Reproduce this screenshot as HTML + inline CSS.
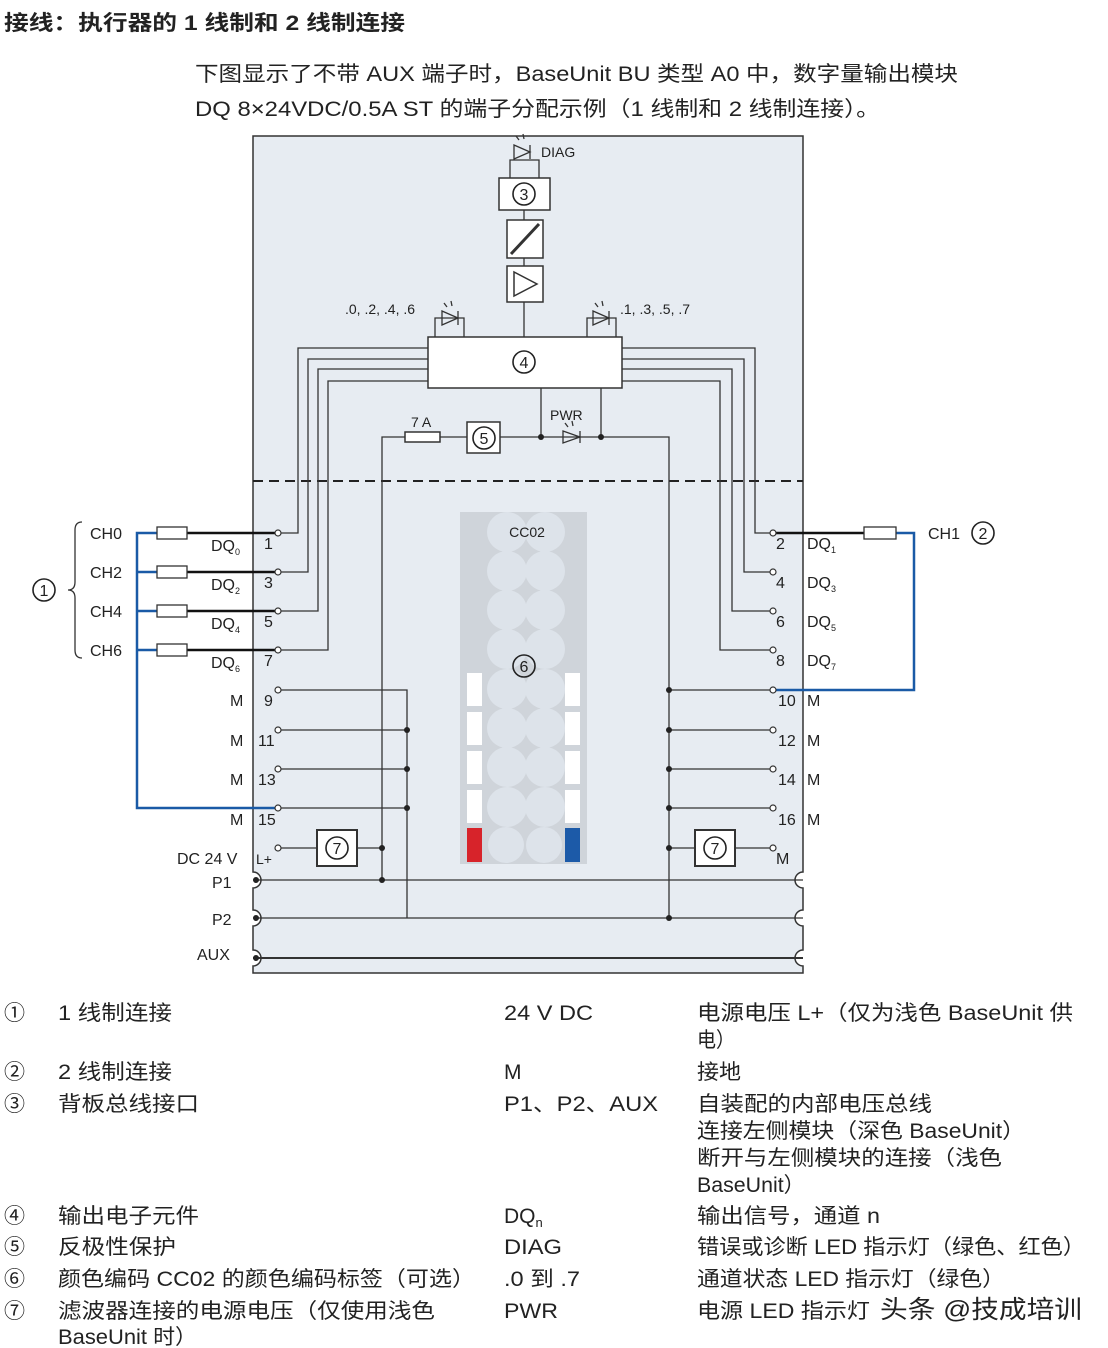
<!DOCTYPE html>
<html><head><meta charset="utf-8"><style>
html,body{margin:0;padding:0;background:#fff;}
svg{display:block;}
text{font-family:"Liberation Sans","Noto Sans CJK SC",sans-serif;fill:#222;}
</style></head><body>
<svg width="1108" height="1348" viewBox="0 0 1108 1348" xmlns="http://www.w3.org/2000/svg">
<text x="4" y="30" font-size="21" font-weight="bold" fill="#111" textLength="401" lengthAdjust="spacingAndGlyphs">接线：执行器的 1 线制和 2 线制连接</text>
<text x="195" y="81" font-size="21" textLength="763" lengthAdjust="spacingAndGlyphs">下图显示了不带 AUX 端子时，BaseUnit BU 类型 A0 中，数字量输出模块</text>
<text x="195" y="116" font-size="21" textLength="685" lengthAdjust="spacingAndGlyphs">DQ 8×24VDC/0.5A ST 的端子分配示例（1 线制和 2 线制连接）。</text>

<path d="M253,136 H803 V872 a8,8 0 0 0 0,16 V910 a8,8 0 0 0 0,16 V950 a8,8 0 0 0 0,16 V973 H253 V966 a8,8 0 0 0 0,-16 V926 a8,8 0 0 0 0,-16 V888 a8,8 0 0 0 0,-16 Z" fill="#e7ecf2" stroke="#333" stroke-width="1.5"/>
<line x1="253" y1="481" x2="803" y2="481" stroke="#222" stroke-width="2" stroke-dasharray="10,6"/>

<g stroke="#333" fill="none" stroke-width="1.3">
<line x1="524" y1="210" x2="524" y2="220"/>
<line x1="524" y1="258" x2="524" y2="266"/>
<line x1="524" y1="302" x2="524" y2="337"/>
<path d="M510,178 V160 H539 V178"/>
<path d="M435,337 V318 H464 V337"/>
<path d="M587,337 V318 H616 V337"/>
<path d="M428,348 H298 V533 H278"/>
<path d="M428,359 H308 V572 H278"/>
<path d="M428,369 H318 V611 H278"/>
<path d="M428,381 H328 V650 H278"/>
<path d="M622,348 H755 V533 H773"/>
<path d="M622,359 H744 V572 H773"/>
<path d="M622,369 H732 V611 H773"/>
<path d="M622,381 H720 V650 H773"/>
<line x1="541" y1="388" x2="541" y2="437"/>
<line x1="601" y1="388" x2="601" y2="437"/>
<path d="M382,880 V437 H405"/>
<line x1="440" y1="437" x2="467" y2="437"/>
<path d="M500,437 H669 V918"/>
<path d="M278,690 H407 V918"/>
<line x1="278" y1="730" x2="407" y2="730"/>
<line x1="278" y1="769" x2="407" y2="769"/>
<line x1="278" y1="808" x2="407" y2="808"/>
<line x1="278" y1="848" x2="317" y2="848"/>
<line x1="357" y1="848" x2="382" y2="848"/>
<line x1="669" y1="690" x2="773" y2="690"/>
<line x1="669" y1="730" x2="773" y2="730"/>
<line x1="669" y1="769" x2="773" y2="769"/>
<line x1="669" y1="808" x2="773" y2="808"/>
<line x1="669" y1="848" x2="695" y2="848"/>
<line x1="735" y1="848" x2="773" y2="848"/>
<line x1="253" y1="880" x2="803" y2="880"/>
<line x1="253" y1="918" x2="803" y2="918"/>
<line x1="253" y1="958" x2="803" y2="958" stroke-width="2"/>
</g>

<g stroke="#333" stroke-width="1.5" fill="#fff">
<rect x="499" y="178" width="51" height="32"/>
<rect x="507" y="220" width="36" height="38"/>
<rect x="507" y="266" width="36" height="36"/>
<rect x="428" y="337" width="194" height="51"/>
<rect x="467" y="422" width="33" height="31"/>
<rect x="405" y="432" width="35" height="10"/>
<rect x="317" y="830" width="40" height="36" stroke-width="2"/>
<rect x="695" y="830" width="40" height="36" stroke-width="2"/>
</g>
<line x1="511" y1="254" x2="539" y2="224" stroke="#333" stroke-width="3"/>
<path d="M514,272 V296 L537,284 Z" fill="none" stroke="#333" stroke-width="1.5"/>

<g stroke="#333" stroke-width="1.3" fill="none">
<path d="M514,145 L530,152 L514,159 Z M530,145 V159"/>
<path d="M519,140 l-3,-4 M524,139 l-1,-5"/>
<path d="M442,311 L458,318 L442,325 Z M458,311 V325" />
<path d="M447,307 l-3,-4 M452,306 l-1,-5"/>
<path d="M593,311 L609,318 L593,325 Z M609,311 V325"/>
<path d="M598,307 l-3,-4 M603,306 l-1,-5"/>
<path d="M563,431 L580,437 L563,443 Z M580,431 V443"/>
<path d="M568,427 l-3,-4 M573,426 l-1,-5"/>
</g>
<text x="541" y="157" font-size="14">DIAG</text>
<text x="345" y="314" font-size="14">.0, .2, .4, .6</text>
<text x="620" y="314" font-size="14">.1, .3, .5, .7</text>
<text x="550" y="420" font-size="14">PWR</text>
<text x="411" y="427" font-size="14">7 A</text>

<g fill="#fff" stroke="#222" stroke-width="1.6">
<circle cx="524" cy="194" r="11"/>
<circle cx="524" cy="362" r="11"/>
<circle cx="484" cy="438" r="11"/>
<circle cx="337" cy="848" r="11"/>
<circle cx="715" cy="848" r="11"/>
</g>
<g font-size="16" text-anchor="middle">
<text x="524" y="200">3</text><text x="524" y="368">4</text><text x="484" y="444">5</text>
<text x="337" y="854">7</text><text x="715" y="854">7</text>
</g>

<g fill="#222">
<circle cx="541" cy="437" r="3"/><circle cx="601" cy="437" r="3"/>
<circle cx="407" cy="730" r="3"/><circle cx="407" cy="769" r="3"/><circle cx="407" cy="808" r="3"/>
<circle cx="382" cy="848" r="3"/><circle cx="382" cy="880" r="3"/>
<circle cx="669" cy="690" r="3"/><circle cx="669" cy="730" r="3"/><circle cx="669" cy="769" r="3"/><circle cx="669" cy="808" r="3"/><circle cx="669" cy="848" r="3"/><circle cx="669" cy="918" r="3"/>
<circle cx="256" cy="880" r="3"/><circle cx="256" cy="918" r="3"/><circle cx="256" cy="958" r="3"/>
</g>

<rect x="460" y="512" width="127" height="352" fill="#cfd4da"/>
<g fill="#dde3ea">
<circle cx="507" cy="532" r="20"/><circle cx="545" cy="532" r="20"/>
<circle cx="507" cy="571" r="20"/><circle cx="545" cy="571" r="20"/>
<circle cx="507" cy="610" r="20"/><circle cx="545" cy="610" r="20"/>
<circle cx="507" cy="649" r="20"/><circle cx="545" cy="649" r="20"/>
<circle cx="507" cy="689" r="20"/><circle cx="545" cy="689" r="20"/>
<circle cx="507" cy="728" r="20"/><circle cx="545" cy="728" r="20"/>
<circle cx="507" cy="767" r="20"/><circle cx="545" cy="767" r="20"/>
<circle cx="507" cy="807" r="20"/><circle cx="545" cy="807" r="20"/>
<circle cx="506" cy="845" r="18"/><circle cx="544" cy="845" r="18"/>
</g>
<g fill="#fff">
<rect x="467" y="673" width="15" height="33"/><rect x="467" y="712" width="15" height="33"/><rect x="467" y="751" width="15" height="33"/><rect x="467" y="790" width="15" height="33"/>
<rect x="565" y="673" width="15" height="33"/><rect x="565" y="712" width="15" height="33"/><rect x="565" y="751" width="15" height="33"/><rect x="565" y="790" width="15" height="33"/>
</g>
<rect x="467" y="828" width="15" height="34" fill="#d7232a"/>
<rect x="565" y="828" width="15" height="34" fill="#1c5aa8"/>
<text x="527" y="537" font-size="14" text-anchor="middle">CC02</text>
<circle cx="524" cy="666" r="11" fill="none" stroke="#222" stroke-width="1.6"/>
<text x="524" y="672" font-size="16" text-anchor="middle">6</text>

<path d="M157,533 H137 V808 H278" fill="none" stroke="#1a5aa6" stroke-width="2.5"/>
<path d="M137,572 H157 M137,611 H157 M137,650 H157" stroke="#1a5aa6" stroke-width="2.5"/>
<path d="M896,533 H914 V690 H773" fill="none" stroke="#1a5aa6" stroke-width="2.5"/>
<g stroke="#111" stroke-width="2.5">
<line x1="187" y1="533" x2="275" y2="533"/><line x1="187" y1="572" x2="275" y2="572"/>
<line x1="187" y1="611" x2="275" y2="611"/><line x1="187" y1="650" x2="275" y2="650"/>
<line x1="776" y1="533" x2="864" y2="533"/>
</g>
<g fill="#fff" stroke="#333" stroke-width="1.3">
<rect x="157" y="527" width="30" height="12"/><rect x="157" y="566" width="30" height="12"/>
<rect x="157" y="605" width="30" height="12"/><rect x="157" y="644" width="30" height="12"/>
<rect x="864" y="527" width="32" height="12"/>
</g>
<g fill="#fff" stroke="#333" stroke-width="1.2">
<circle cx="278" cy="533" r="3"/><circle cx="278" cy="572" r="3"/><circle cx="278" cy="611" r="3"/><circle cx="278" cy="650" r="3"/>
<circle cx="278" cy="690" r="3"/><circle cx="278" cy="730" r="3"/><circle cx="278" cy="769" r="3"/><circle cx="278" cy="808" r="3"/><circle cx="278" cy="848" r="3"/>
<circle cx="773" cy="533" r="3"/><circle cx="773" cy="572" r="3"/><circle cx="773" cy="611" r="3"/><circle cx="773" cy="650" r="3"/>
<circle cx="773" cy="690" r="3"/><circle cx="773" cy="730" r="3"/><circle cx="773" cy="769" r="3"/><circle cx="773" cy="808" r="3"/><circle cx="773" cy="848" r="3"/>
</g>
<path d="M82,522 Q75,522 75,530 V582 Q75,590 68,590 Q75,590 75,598 V650 Q75,658 82,658" fill="none" stroke="#333" stroke-width="1.3"/>
<circle cx="44" cy="590" r="11" fill="none" stroke="#222" stroke-width="1.6"/>
<text x="44" y="596" font-size="16" text-anchor="middle">1</text>
<circle cx="983" cy="533" r="11" fill="none" stroke="#222" stroke-width="1.6"/>
<text x="983" y="539" font-size="16" text-anchor="middle">2</text>

<g font-size="16">
<text x="90" y="539">CH0</text><text x="90" y="578">CH2</text><text x="90" y="617">CH4</text><text x="90" y="656">CH6</text>
<text x="928" y="539">CH1</text>
<text x="211" y="551">DQ<tspan font-size="9" dy="4">0</tspan></text>
<text x="211" y="590">DQ<tspan font-size="9" dy="4">2</tspan></text>
<text x="211" y="629">DQ<tspan font-size="9" dy="4">4</tspan></text>
<text x="211" y="668">DQ<tspan font-size="9" dy="4">6</tspan></text>
<text x="264" y="549">1</text><text x="264" y="588">3</text><text x="264" y="627">5</text><text x="264" y="666">7</text>
<text x="264" y="706">9</text><text x="258" y="746">11</text><text x="258" y="785">13</text><text x="258" y="825">15</text>
<text x="230" y="706">M</text><text x="230" y="746">M</text><text x="230" y="785">M</text><text x="230" y="825">M</text>
<text x="177" y="864">DC 24 V</text><text x="256" y="864" font-size="14">L+</text>
<text x="212" y="888">P1</text><text x="212" y="925">P2</text><text x="197" y="960">AUX</text>
<text x="776" y="549">2</text><text x="776" y="588">4</text><text x="776" y="627">6</text><text x="776" y="666">8</text>
<text x="778" y="706">10</text><text x="778" y="746">12</text><text x="778" y="785">14</text><text x="778" y="825">16</text><text x="776" y="864">M</text>
<text x="807" y="549">DQ<tspan font-size="9" dy="4">1</tspan></text>
<text x="807" y="588">DQ<tspan font-size="9" dy="4">3</tspan></text>
<text x="807" y="627">DQ<tspan font-size="9" dy="4">5</tspan></text>
<text x="807" y="666">DQ<tspan font-size="9" dy="4">7</tspan></text>
<text x="807" y="706">M</text><text x="807" y="746">M</text><text x="807" y="785">M</text><text x="807" y="825">M</text>
</g>

<g font-size="21" fill="#222" lengthAdjust="spacingAndGlyphs">
<text x="4" y="1020">①</text><text x="58" y="1020" textLength="114" lengthAdjust="spacingAndGlyphs">1 线制连接</text><text x="504" y="1020" textLength="89" lengthAdjust="spacingAndGlyphs">24 V DC</text><text x="697" y="1020" textLength="376" lengthAdjust="spacingAndGlyphs">电源电压 L+（仅为浅色 BaseUnit 供</text>
<text x="697" y="1047" textLength="38" lengthAdjust="spacingAndGlyphs">电）</text>
<text x="4" y="1079">②</text><text x="58" y="1079" textLength="114" lengthAdjust="spacingAndGlyphs">2 线制连接</text><text x="504" y="1079">M</text><text x="697" y="1079" textLength="44" lengthAdjust="spacingAndGlyphs">接地</text>
<text x="4" y="1111">③</text><text x="58" y="1111" textLength="141" lengthAdjust="spacingAndGlyphs">背板总线接口</text><text x="504" y="1111" textLength="154" lengthAdjust="spacingAndGlyphs">P1、P2、AUX</text><text x="697" y="1111" textLength="235" lengthAdjust="spacingAndGlyphs">自装配的内部电压总线</text>
<text x="697" y="1138" textLength="328" lengthAdjust="spacingAndGlyphs">连接左侧模块（深色 BaseUnit）</text>
<text x="697" y="1165" textLength="305" lengthAdjust="spacingAndGlyphs">断开与左侧模块的连接（浅色</text>
<text x="697" y="1192" textLength="108" lengthAdjust="spacingAndGlyphs">BaseUnit）</text>
<text x="4" y="1223">④</text><text x="58" y="1223" textLength="141" lengthAdjust="spacingAndGlyphs">输出电子元件</text><text x="504" y="1223">DQ<tspan font-size="13" dy="4">n</tspan></text><text x="697" y="1223" textLength="183" lengthAdjust="spacingAndGlyphs">输出信号，通道 n</text>
<text x="4" y="1254">⑤</text><text x="58" y="1254" textLength="118" lengthAdjust="spacingAndGlyphs">反极性保护</text><text x="504" y="1254" textLength="58" lengthAdjust="spacingAndGlyphs">DIAG</text><text x="697" y="1254" textLength="388" lengthAdjust="spacingAndGlyphs">错误或诊断 LED 指示灯（绿色、红色）</text>
<text x="4" y="1286">⑥</text><text x="58" y="1286" textLength="417" lengthAdjust="spacingAndGlyphs">颜色编码 CC02 的颜色编码标签（可选）</text><text x="504" y="1286" textLength="76" lengthAdjust="spacingAndGlyphs">.0 到 .7</text><text x="697" y="1286" textLength="308" lengthAdjust="spacingAndGlyphs">通道状态 LED 指示灯（绿色）</text>
<text x="4" y="1318">⑦</text><text x="58" y="1318" textLength="377" lengthAdjust="spacingAndGlyphs">滤波器连接的电源电压（仅使用浅色</text><text x="504" y="1318" textLength="54" lengthAdjust="spacingAndGlyphs">PWR</text><text x="697" y="1318" textLength="173" lengthAdjust="spacingAndGlyphs">电源 LED 指示灯</text>
<text x="58" y="1344" textLength="139" lengthAdjust="spacingAndGlyphs">BaseUnit 时）</text>
<text x="880" y="1318" font-size="25" fill="#111" textLength="202" lengthAdjust="spacingAndGlyphs">头条 @技成培训</text>
</g>
</svg>
</body></html>
